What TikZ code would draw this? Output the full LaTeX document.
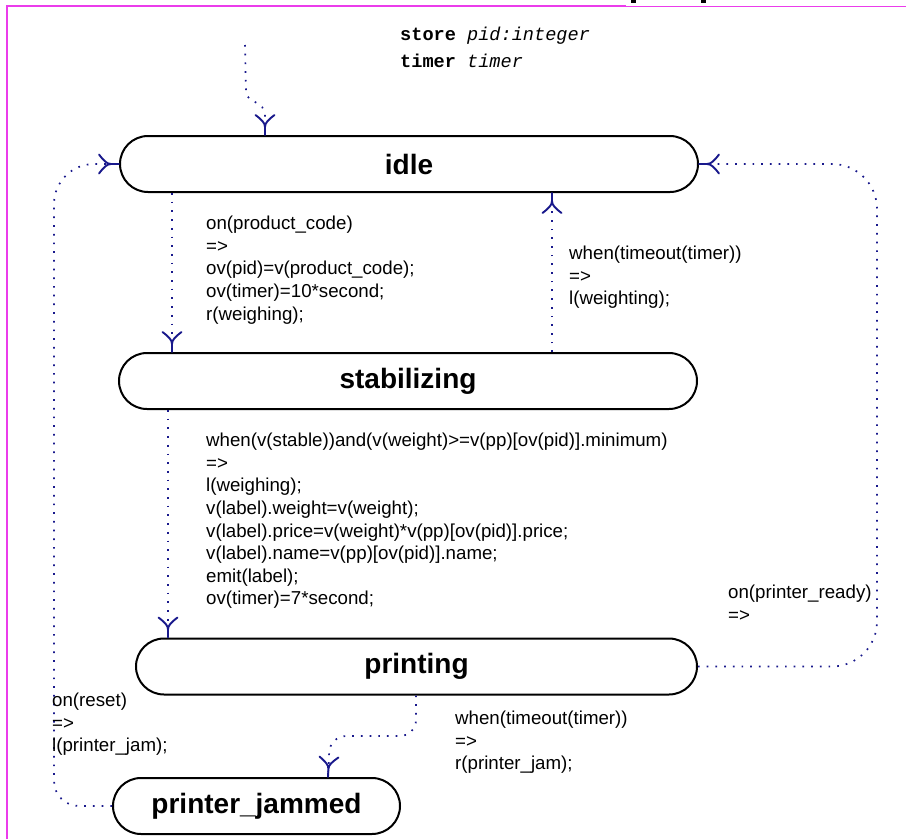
\documentclass[tikz,border=0pt]{standalone}
\usepackage{fontspec}
\setmainfont{Liberation Sans}
\setmonofont{Liberation Mono}
\usetikzlibrary{shapes.misc}

\definecolor{connblue}{RGB}{25,25,140}
\definecolor{framemag}{RGB}{235,60,235}

% open fork-shaped arrow head: two flared barbs set back from the tip
\pgfdeclarearrow{
  name = Fork,
  setup code = {
    \pgfarrowssettipend{0pt}
    \pgfarrowssetlineend{-1pt}
    \pgfarrowssetbackend{-20pt}
    \pgfarrowssetvisualbackend{-20pt}
    \pgfarrowshullpoint{0pt}{0pt}
    \pgfarrowshullpoint{-20pt}{9.5pt}
    \pgfarrowshullpoint{-20pt}{-9.5pt}
  },
  drawing code = {
    \pgfsetdash{}{0pt}
    \pgfsetroundcap
    \pgfsetlinewidth{1.9pt}
    \pgfpathmoveto{\pgfpoint{-20pt}{9.5pt}}
    \pgfpathcurveto{\pgfpoint{-15pt}{3pt}}{\pgfpoint{-12pt}{0pt}}{\pgfpoint{-8pt}{0pt}}
    \pgfpathcurveto{\pgfpoint{-12pt}{0pt}}{\pgfpoint{-15pt}{-3pt}}{\pgfpoint{-20pt}{-9.5pt}}
    \pgfpathmoveto{\pgfpoint{-8pt}{0pt}}
    \pgfpathlineto{\pgfpoint{0pt}{0pt}}
    \pgfusepathqstroke
  },
  defaults = {}
}

\begin{document}
\begin{tikzpicture}[x=1pt,y=-1pt,
  state/.style={rounded rectangle, draw=black, line width=2pt, fill=white,
    inner sep=0pt, minimum height=56pt,
    font=\fontsize{28}{32}\selectfont\bfseries},
  conn/.style={draw=connblue, line width=1.7pt,
    dash pattern=on 1.7pt off 7pt, -Fork},
  guard/.style={anchor=north west, inner sep=0pt, align=left,
    font=\fontsize{18.7}{22.6}\selectfont},
  decl/.style={anchor=base west, inner sep=0pt,
    font=\fontsize{18.6}{22}\selectfont\ttfamily},
]
\useasboundingbox (0,0) rectangle (906,839);
\fill[white] (0,0) rectangle (906,839);

% frame
\draw[framemag, line width=2.4pt] (7,839) -- (7,6) -- (626,6);
\draw[framemag, line width=1.2pt] (626,6.5) -- (906,6.5);
\fill[black] (631,0) rectangle (636,3);
\fill[black] (701,0) rectangle (706,3);

% declarations
\node[decl] (store) at (400,40) {\textbf{store} \textit{pid:integer}};
\node[decl] (timer) at (400,67) {\textbf{timer} \textit{timer}};

% states
\node[state, minimum width=578pt] (idle)  at (409,164) {idle};
\node[state, minimum width=578pt] (stab)  at (408,381) {stabilizing};
\node[state, minimum width=561pt] (print) at (416.5,666.5) {printing};
\node[state, minimum width=287pt] (jam)   at (256.5,806) {printer\_jammed};

% helper columns
\coordinate (init) at (245,45);
\coordinate (xi) at (265,0);
\coordinate (xa) at (172,0);
\coordinate (xb) at (552,0);
\coordinate (xc) at (168,0);
\coordinate (xd) at (416,0);
\coordinate (xe) at (328,0);

% transitions
\draw[conn] (init) -- (246,92) .. controls (247,104) and (265,100) .. (265,116)
  -- (idle.north -| xi);
\draw[conn] (xa |- idle.south) -- (xa |- stab.north);
\draw[conn] (xb |- stab.north) -- (xb |- idle.south);
\draw[conn] (xc |- stab.south) -- (xc |- print.north);
\draw[conn, rounded corners=45pt] (print.east) -- (877,666.5) -- (877,164) -- (idle.east);
\draw[conn, rounded corners=16pt] (xd |- print.south) -- (416,736) -- (330,736) -- (xe |- jam.north);
\draw[conn] (jam.west) [rounded corners=25pt] -- (54,806) [rounded corners=40pt] -- (54,164) -- (idle.west);

% guards and actions
\node[guard] (g1) at (206,216) {on(product\_code)\\=>\\ov(pid)=v(product\_code);\\ov(timer)=10*second;\\r(weighing);};
\node[guard] (g2) at (569,246) {when(timeout(timer))\\=>\\l(weighting);};
\node[guard] (g3) at (206,433) {when(v(stable))and(v(weight)>=v(pp)[ov(pid)].minimum)\\=>\\l(weighing);\\v(label).weight=v(weight);\\v(label).price=v(weight)*v(pp)[ov(pid)].price;\\v(label).name=v(pp)[ov(pid)].name;\\emit(label);\\ov(timer)=7*second;};
\node[guard] (g4) at (728,585) {on(printer\_ready)\\=>};
\node[guard] (g5) at (52,693) {on(reset)\\=>\\l(printer\_jam);};
\node[guard] (g6) at (455,711) {when(timeout(timer))\\=>\\r(printer\_jam);};
\end{tikzpicture}
\end{document}
